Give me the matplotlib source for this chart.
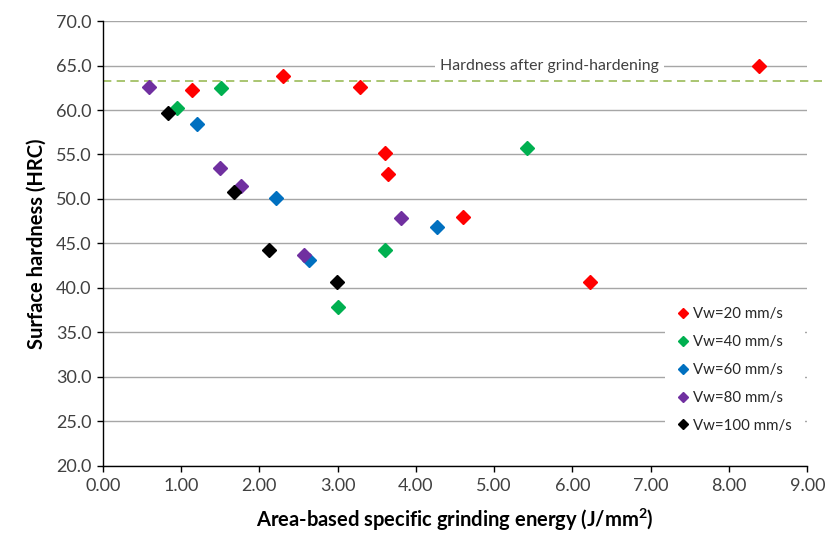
import matplotlib
matplotlib.use("Agg")
import matplotlib.pyplot as plt

plt.rcParams['font.family'] = ['Lato', 'DejaVu Sans']

# Data
vw20_x = [1.14, 2.30, 3.29, 3.60, 3.64, 4.60, 6.22, 8.38]
vw20_y = [62.2, 63.8, 62.6, 55.2, 52.8, 48.0, 40.7, 64.9]
vw40_x = [0.95, 1.51, 3.01, 3.60, 5.42]
vw40_y = [60.2, 62.5, 37.8, 44.3, 55.7]
vw60_x = [1.21, 2.21, 2.64, 4.27]
vw60_y = [58.4, 50.1, 43.1, 46.8]
vw80_x = [0.59, 1.50, 1.77, 2.57, 3.81]
vw80_y = [62.6, 53.5, 51.5, 43.7, 47.8]
vw100_x = [0.84, 1.68, 2.12, 2.99]
vw100_y = [59.7, 50.8, 44.3, 40.6]

series_labels = ["Vw=20 mm/s", "Vw=40 mm/s", "Vw=60 mm/s", "Vw=80 mm/s", "Vw=100 mm/s"]
series_colors = ["#ff0000", "#00b050", "#0070c0", "#7030a0", "#000000"]

hardness_level = 63.3
hardness_label = "Hardness after grind-hardening"

x_ticks = [0, 1, 2, 3, 4, 5, 6, 7, 8, 9]
y_ticks = [20, 25, 30, 35, 40, 45, 50, 55, 60, 65, 70]

fig = plt.figure(figsize=(8.25, 5.34), dpi=100)
ax = fig.add_axes([0.1245, 0.128, 0.854, 0.8325])

ax.set_xlim(0, 9)
ax.set_ylim(20, 70)
ax.set_xticks(x_ticks)
ax.set_yticks(y_ticks)
ax.set_xticklabels([f"{v:.2f}" for v in x_ticks])
ax.set_yticklabels([f"{v:.1f}" for v in y_ticks])
ax.tick_params(axis='both', labelsize=13, colors='black', labelcolor='#404040',
               direction='out', length=4, width=1)
ax.tick_params(axis='x', pad=5)
ax.tick_params(axis='y', pad=4)

for s in ['top', 'right']:
    ax.spines[s].set_visible(False)
for s in ['left', 'bottom']:
    ax.spines[s].set_color('black')
    ax.spines[s].set_linewidth(1.0)

ax.yaxis.grid(True, color='#a6a6a6', linewidth=1.0)
ax.set_axisbelow(True)

# Hardness reference line (extends beyond the plot area)
ax.plot([0, 9.25], [hardness_level, hardness_level], linestyle=(0, (5, 3.2)),
        color='#9bbb59', linewidth=1.2, clip_on=False, zorder=2)

ax.text(5.71, 65, hardness_label, ha='center', va='center', fontsize=11.4,
        color='#404040', zorder=3,
        bbox=dict(facecolor='white', edgecolor='none', pad=3.5))

xs = [vw20_x, vw40_x, vw60_x, vw80_x, vw100_x]
ys = [vw20_y, vw40_y, vw60_y, vw80_y, vw100_y]
for x, y, lab, col in zip(xs, ys, series_labels, series_colors):
    ax.plot(x, y, linestyle='none', marker='D', markersize=6.8, color=col,
            markeredgecolor=col, label=lab, zorder=4)

leg = ax.legend(loc='lower right', bbox_to_anchor=(1.008, 0.027), fontsize=10.8,
                frameon=True, markerscale=0.8, handlelength=0.6, handletextpad=0.4,
                labelspacing=0.92, borderpad=0.9, labelcolor='#262626')
leg.get_frame().set_facecolor('white')
leg.get_frame().set_edgecolor('none')
leg.get_frame().set_alpha(1.0)
leg.get_frame().set_boxstyle('square', pad=0)

ax.set_ylabel("Surface hardness (HRC)", fontsize=14.5, fontweight='bold', labelpad=7)
ax.set_xlabel("Area-based specific grinding energy (J/mm$^\\mathregular{2}$)",
              fontsize=14.5, fontweight='bold', labelpad=9)

fig.savefig("out.png", dpi=100, facecolor='white')
